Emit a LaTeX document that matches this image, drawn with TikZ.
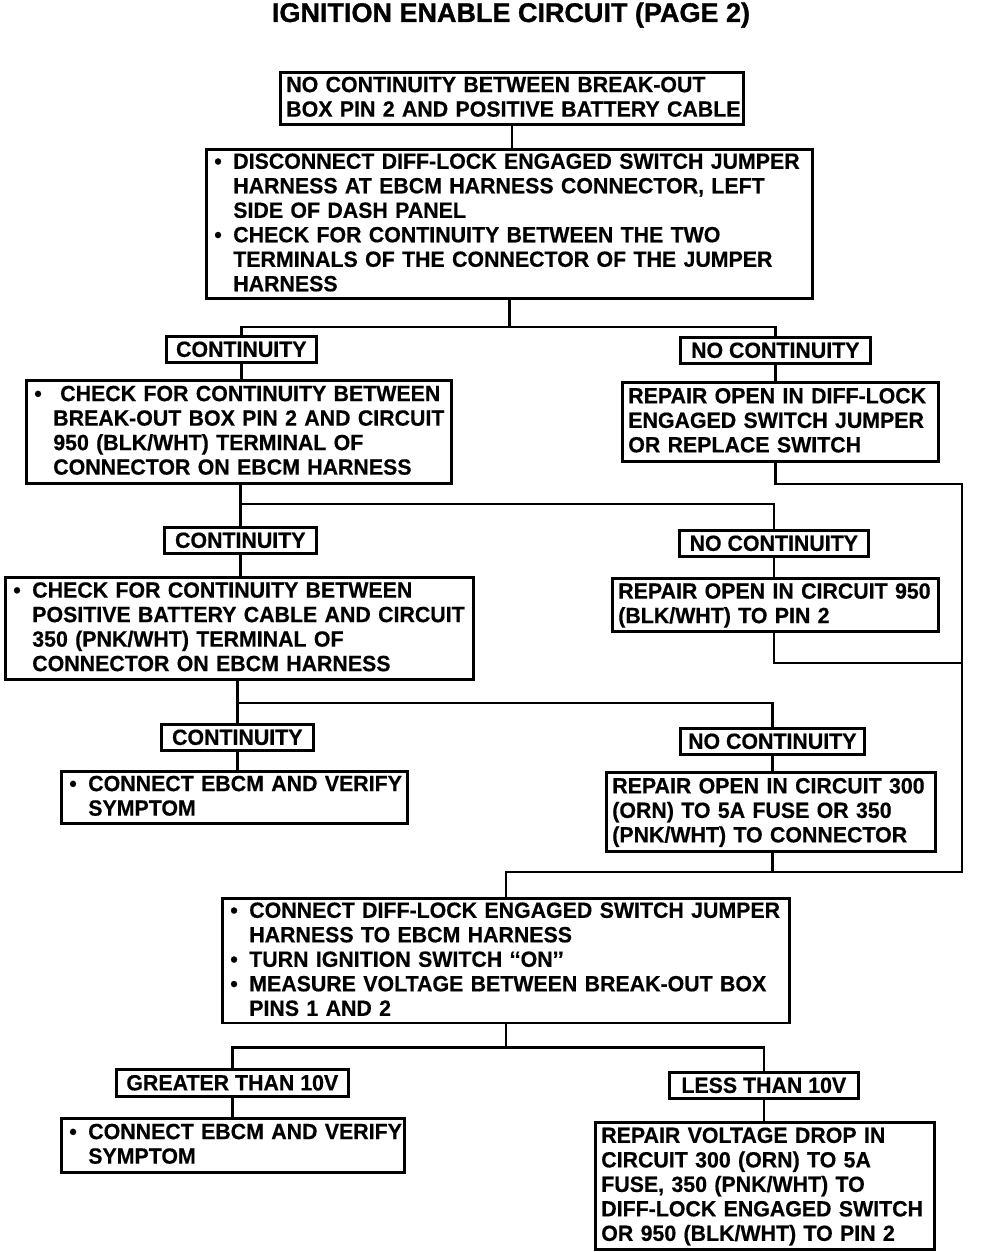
\documentclass[tikz,border=0pt]{standalone}
\usepackage{fontspec}
\newfontfamily\bodyfont{Liberation Sans}[FakeStretch=0.97,FakeBold=0.5]
\newfontfamily\headfont{Liberation Sans}[FakeBold=1.2]
\newcommand\bul{\makebox[21pt][l]{\hspace{2pt}•}}
\newcommand\ind{\hspace*{21pt}}
\newcommand\tl[1]{\begin{tabular}{@{}l@{}}\rule{0pt}{19.5pt}#1\end{tabular}}
\tikzset{
  box/.style={draw, line width=2.6pt, inner xsep=6pt, inner ysep=0pt, align=left, anchor=north west,
    font=\bodyfont\bfseries\fontsize{22pt}{24.5pt}\selectfont},
  lab/.style={draw, line width=2.6pt, inner sep=0pt, anchor=north west,
    font=\bodyfont\bfseries\fontsize{22pt}{24.5pt}\selectfont},
  conn/.style={line width=2.6pt, line join=miter},
  titletext/.style={inner sep=0pt, anchor=base, font=\headfont\bfseries\fontsize{27pt}{30pt}\selectfont}
}
\newcommand\bx[6]{\pgfmathsetmacro\bxw{#4-#2}\pgfmathsetmacro\bxh{#5-#3}\pgfmathsetmacro\bxt{#4-#2-12}%
  \node[box, text width=\bxt pt, minimum width=\bxw pt, minimum height=\bxh pt] (#1) at (#2,#3) {\tl{#6}};}
\newcommand\lb[6]{\pgfmathsetmacro\bxw{#4-#2}\pgfmathsetmacro\bxh{#5-#3}%
  \node[lab, minimum width=\bxw pt, minimum height=\bxh pt] (#1) at (#2,#3) {#6};}
\begin{document}
\begin{tikzpicture}[x=1pt,y=-1pt]
\useasboundingbox (0,0) rectangle (992,1252);
\node[titletext] (title) at (511,22) {IGNITION ENABLE CIRCUIT (PAGE 2)};

\bx{b1}{279}{71}{742}{123}{NO CONTINUITY BETWEEN BREAK-OUT\\BOX PIN 2 AND POSITIVE BATTERY CABLE}
\bx{b2}{205}{148}{811}{296}{\bul DISCONNECT DIFF-LOCK ENGAGED SWITCH JUMPER\\
\ind HARNESS AT EBCM HARNESS CONNECTOR, LEFT\\
\ind SIDE OF DASH PANEL\\
\bul CHECK FOR CONTINUITY BETWEEN THE TWO\\
\ind TERMINALS OF THE CONNECTOR OF THE JUMPER\\
\ind HARNESS}
\lb{c1}{165}{335}{315}{361}{CONTINUITY}
\lb{n1}{679}{336}{869}{362}{NO CONTINUITY}
\bx{b3}{25}{379}{450}{482}{\bul\hspace{7pt}CHECK FOR CONTINUITY BETWEEN\\
\ind BREAK-OUT BOX PIN 2 AND CIRCUIT\\
\ind 950 (BLK/WHT) TERMINAL OF\\
\ind CONNECTOR ON EBCM HARNESS}
\bx{b4}{621}{381}{937}{460}{REPAIR OPEN IN DIFF-LOCK\\ENGAGED SWITCH JUMPER\\OR REPLACE SWITCH}
\lb{c2}{163}{526}{315}{552}{CONTINUITY}
\lb{n2}{678}{529}{867}{555}{NO CONTINUITY}
\bx{b5}{4}{576}{472}{678}{\bul CHECK FOR CONTINUITY BETWEEN\\
\ind POSITIVE BATTERY CABLE AND CIRCUIT\\
\ind 350 (PNK/WHT) TERMINAL OF\\
\ind CONNECTOR ON EBCM HARNESS}
\bx{b6}{611}{577}{937}{630}{REPAIR OPEN IN CIRCUIT 950\\(BLK/WHT) TO PIN 2}
\lb{c3}{160}{723}{312}{749}{CONTINUITY}
\lb{n3}{679}{727}{863}{753}{NO CONTINUITY}
\bx{b7}{60}{770}{406}{822}{\bul CONNECT EBCM AND VERIFY\\\ind SYMPTOM}
\bx{b8}{605}{771}{934}{850}{REPAIR OPEN IN CIRCUIT 300\\(ORN) TO 5A FUSE OR 350\\(PNK/WHT) TO CONNECTOR}
\bx{b9}{221}{897}{788}{1021}{\bul CONNECT DIFF-LOCK ENGAGED SWITCH JUMPER\\
\ind HARNESS TO EBCM HARNESS\\
\bul TURN IGNITION SWITCH ‘‘ON’’\\
\bul MEASURE VOLTAGE BETWEEN BREAK-OUT BOX\\
\ind PINS 1 AND 2}
\lb{g1}{115}{1068}{347}{1095}{GREATER THAN 10V}
\lb{l1}{668}{1071}{857}{1097}{LESS THAN 10V}
\bx{b10}{60}{1117}{403}{1171}{\bul CONNECT EBCM AND VERIFY\\\ind SYMPTOM}
\bx{b11}{594}{1121}{933}{1248}{REPAIR VOLTAGE DROP IN\\CIRCUIT 300 (ORN) TO 5A\\FUSE, 350 (PNK/WHT) TO\\DIFF-LOCK ENGAGED SWITCH\\OR 950 (BLK/WHT) TO PIN 2}

\coordinate (r1) at (962,484);
\coordinate (r2) at (962,663);
\coordinate (r3) at (962,872);

\draw[conn] (b1.south) -- (b1.south |- b2.north);
\draw[conn] (b2.south) -- ++(0,27) coordinate (j1);
\draw[conn] (c1.north) |- (j1) -| (n1.north);
\draw[conn] (c1.south) -- (c1.south |- b3.north);
\draw[conn] (n1.south) -- (n1.south |- b4.north);

\coordinate (j2) at (c2.north |- 0,504);
\draw[conn] (c2.north |- b3.south) -- (c2.north);
\draw[conn] (j2) -| (n2.north);
\draw[conn] (c2.south) -- (c2.south |- b5.north);
\draw[conn] (n2.south) -- (n2.south |- b6.north);

\coordinate (j3) at (c3.north |- 0,703);
\draw[conn] (c3.north |- b5.south) -- (c3.north);
\draw[conn] (j3) -| (n3.north);
\draw[conn] (c3.south) -- (c3.south |- b7.north);
\draw[conn] (n3.south) -- (n3.south |- b8.north);

\draw[conn] (n1.south |- b4.south) |- (r1) -- (r3) -| (b9.north);
\draw[conn] (n2.south |- b6.south) |- (r2);
\draw[conn] (n3.south |- b8.south) -- (n3.south |- r3);

\draw[conn] (b9.south) -- ++(0,23) coordinate (j4);
\draw[conn] (g1.north) |- (j4) -| (l1.north);
\draw[conn] (g1.south) -- (g1.south |- b10.north);
\draw[conn] (l1.south) -- (l1.south |- b11.north);
\end{tikzpicture}
\end{document}
